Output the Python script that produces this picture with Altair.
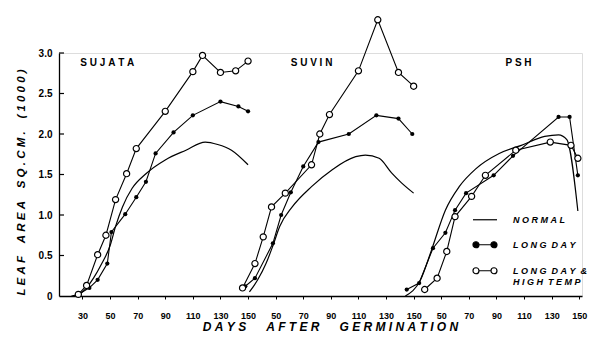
import altair as alt
import pandas as pd

PANELS = ["SUJATA", "SUVIN", "PSH"]
SERIES = ["NORMAL", "LONG DAY", "LONG DAY & HIGH TEMP"]

# ---------------- SUJATA ----------------
sujata_normal_day = [22, 30, 38, 44, 50, 54, 59, 66, 76, 90, 105, 119, 128, 138, 150]
sujata_normal_area = [0.0, 0.05, 0.22, 0.40, 0.62, 0.86, 1.10, 1.33, 1.51, 1.68, 1.80, 1.90, 1.87, 1.80, 1.62]
sujata_ld_day = [28, 35, 41, 48, 51, 61, 69, 76, 83, 96, 110, 130, 143, 150]
sujata_ld_area = [0.03, 0.10, 0.20, 0.40, 0.79, 1.01, 1.22, 1.41, 1.76, 2.02, 2.23, 2.40, 2.34, 2.28]
sujata_ldht_day = [27, 33, 41, 47, 54, 62, 69, 90, 110, 117, 130, 141, 150]
sujata_ldht_area = [0.02, 0.13, 0.51, 0.75, 1.19, 1.51, 1.82, 2.28, 2.77, 2.97, 2.76, 2.78, 2.90]

# ---------------- SUVIN ----------------
suvin_normal_day = [31, 37, 43, 48, 53, 62, 76, 91, 108, 115, 125, 134, 141, 150]
suvin_normal_area = [0.05, 0.20, 0.40, 0.62, 0.86, 1.10, 1.35, 1.56, 1.72, 1.74, 1.70, 1.52, 1.40, 1.27]
suvin_ld_day = [28, 35, 48, 54, 61, 70, 81, 103, 123, 139, 149]
suvin_ld_area = [0.12, 0.22, 0.65, 1.00, 1.28, 1.60, 1.90, 2.00, 2.23, 2.19, 2.00]
suvin_ldht_day = [26, 35, 41, 47, 57, 76, 82, 89, 110, 124, 139, 150]
suvin_ldht_area = [0.10, 0.40, 0.73, 1.10, 1.27, 1.62, 2.00, 2.24, 2.78, 3.41, 2.76, 2.59]

# ---------------- PSH ----------------
psh_normal_day = [24, 35, 43, 53, 63, 75, 92, 108, 125, 135, 141, 149]
psh_normal_area = [0.0, 0.20, 0.57, 1.06, 1.35, 1.57, 1.76, 1.86, 1.97, 1.99, 1.93, 1.05]
psh_ld_day = [25, 34, 44, 53, 60, 68, 88, 102, 135, 143, 149]
psh_ld_area = [0.08, 0.16, 0.59, 0.78, 1.06, 1.27, 1.49, 1.73, 2.21, 2.21, 1.49]
psh_ldht_day = [38, 47, 54, 60, 72, 82, 104, 129, 144, 149]
psh_ldht_area = [0.08, 0.22, 0.55, 0.98, 1.23, 1.49, 1.80, 1.90, 1.86, 1.70]

# panel label anchors (day, area)
title_day = [48, 76, 106]
title_area = 2.88

x_tick_values = list(range(0, 361, 20))
y_tick_values = [0, 0.5, 1.0, 1.5, 2.0, 2.5, 3.0]

table = {
    "SUJATA": [(sujata_normal_day, sujata_normal_area), (sujata_ld_day, sujata_ld_area), (sujata_ldht_day, sujata_ldht_area)],
    "SUVIN": [(suvin_normal_day, suvin_normal_area), (suvin_ld_day, suvin_ld_area), (suvin_ldht_day, suvin_ldht_area)],
    "PSH": [(psh_normal_day, psh_normal_area), (psh_ld_day, psh_ld_area), (psh_ldht_day, psh_ldht_area)],
}

rows = []
for pi, p in enumerate(PANELS):
    for si, s in enumerate(SERIES):
        days, areas = table[p][si]
        for d, a in zip(days, areas):
            rows.append({"panel": p, "series": s, "day": d, "area": a, "v": pi * 120 + d - 30})
df = pd.DataFrame(rows)

NB = "\u00a0"


def spaced(text, gap=3):
    return (NB * gap).join(NB.join(w) for w in text.split(" "))


titles_df = pd.DataFrame({
    "label": [spaced(p) for p in PANELS],
    "v": [i * 120 + d - 30 for i, d in enumerate(title_day)],
    "area": [title_area] * 3,
})
ticks_df = pd.DataFrame({"area": y_tick_values[1:]})

FONT = "Liberation Sans"
xtitle = spaced("DAYS AFTER GERMINATION", gap=6)
ytitle = spaced("LEAF AREA SQ.CM. (1000)", gap=4)

xaxis = alt.Axis(
    values=x_tick_values,
    labelExpr="datum.value == 0 ? '30' : (datum.value % 120 == 0 ? '150' : toString(datum.value % 120 + 30))",
    grid=False, domainColor="black", domainWidth=1.3, tickColor="black", tickSize=3, tickWidth=1,
    labelFont=FONT, labelFontSize=9, labelFontWeight="bold", labelColor="black", labelPadding=12,
    titleFont=FONT, titleFontSize=12, titleFontStyle="italic", titleFontWeight="bold", titleColor="black",
    titleX=271, titleY=34, titleAlign="center", titleBaseline="alphabetic",
)
yaxis = alt.Axis(
    values=y_tick_values,
    labelExpr="datum.value == 0 ? '0' : format(datum.value, '.1f')",
    grid=False, domainColor="black", domainWidth=1.3, ticks=False,
    labelFont=FONT, labelFontSize=10, labelFontWeight="bold", labelColor="black", labelPadding=7,
    titleFont=FONT, titleFontSize=11.5, titleFontStyle="italic", titleFontWeight="bold", titleColor="black",
    titleX=-38, titleY=129, titleAngle=270, titleAlign="center", titleBaseline="middle",
)
xscale = alt.Scale(domain=[-17, 362], nice=False, zero=False)
yscale = alt.Scale(domain=[0, 3.0], nice=False)

X = alt.X("v:Q", scale=xscale, axis=xaxis, title=xtitle)
Y = alt.Y("area:Q", scale=yscale, axis=yaxis, title=ytitle)

base = alt.Chart(df)

normal_line = base.transform_filter(alt.datum.series == "NORMAL").mark_line(
    color="black", strokeWidth=1.2, interpolate="monotone"
).encode(x=X, y=Y, detail="panel:N")

marked_lines = base.transform_filter(alt.datum.series != "NORMAL").transform_calculate(
    key="datum.panel + datum.series"
).mark_line(color="black", strokeWidth=1.1).encode(x=X, y=Y, detail="key:N")

ld_points = base.transform_filter(alt.datum.series == "LONG DAY").mark_point(
    shape="circle", filled=True, color="black", size=18, opacity=1
).encode(x=X, y=Y)

ldht_points = base.transform_filter(alt.datum.series == "LONG DAY & HIGH TEMP").mark_point(
    shape="circle", fill="white", stroke="black", strokeWidth=1.2, size=38, opacity=1
).encode(x=X, y=Y)

ytick_rules = alt.Chart(ticks_df).mark_rule(color="black", strokeWidth=1.2).encode(
    y=Y, x=alt.value(0), x2=alt.value(5)
)

panel_titles = alt.Chart(titles_df).mark_text(
    font=FONT, fontSize=10, fontWeight="bold", color="black", align="center", baseline="middle"
).encode(x=X, y=Y, text="label:N")

# legend-only layer (no data rows, legend built from explicit domains)
line_path = "M-1,-0.27L1,-0.27"
dot_path = ("M-1,-0.27A0.25,0.25,0,1,0,-0.5,-0.27A0.25,0.25,0,1,0,-1,-0.27Z"
            "M-0.5,-0.27L0.5,-0.27"
            "M0.5,-0.27A0.25,0.25,0,1,0,1,-0.27A0.25,0.25,0,1,0,0.5,-0.27Z")
lab_normal = spaced("NORMAL")
lab_ld = spaced("LONG DAY", gap=2)
lab_ht1 = spaced("LONG DAY &", gap=2)
lab_ht2 = NB * 9 + spaced("HIGH TEMP", gap=2)
legend_labels = (
    f"datum.label == 'NORMAL' ? '{lab_normal}' : "
    f"(datum.label == 'LONG DAY' ? '{lab_ld}' : ['{lab_ht1}', '{lab_ht2}'])"
)
leg = alt.Legend(
    title=None, orient="none", legendX=413, legendY=157, padding=0,
    symbolSize=576, symbolStrokeColor="black", symbolStrokeWidth=1.2,
    labelFont=FONT, labelFontSize=9, labelFontWeight="bold", labelFontStyle="italic",
    labelColor="black", labelOffset=15, rowPadding=10, labelBaseline="alphabetic",
    labelExpr=legend_labels,
)
legend_layer = base.transform_filter("false").mark_point(
    strokeWidth=1.2, size=576, opacity=1, filled=False
).encode(
    x=X, y=Y,
    shape=alt.Shape("series:N", scale=alt.Scale(domain=SERIES, range=[line_path, dot_path, dot_path]), legend=leg),
    fill=alt.Fill("series:N", scale=alt.Scale(domain=SERIES, range=["white", "black", "white"]), legend=leg),
    stroke=alt.Stroke("series:N", scale=alt.Scale(domain=SERIES, range=["black", "black", "black"]), legend=leg),
)

chart = alt.layer(
    normal_line, marked_lines, ld_points, ldht_points, ytick_rules, panel_titles, legend_layer
).properties(
    width=523, height=243,
    autosize=alt.AutoSizeParams(type="none"),
    padding={"left": 51, "top": 45, "right": 16, "bottom": 37},
).configure_view(stroke=None).configure(background="white")

chart.save("out.html", embed_options={"renderer": "svg", "actions": False})
